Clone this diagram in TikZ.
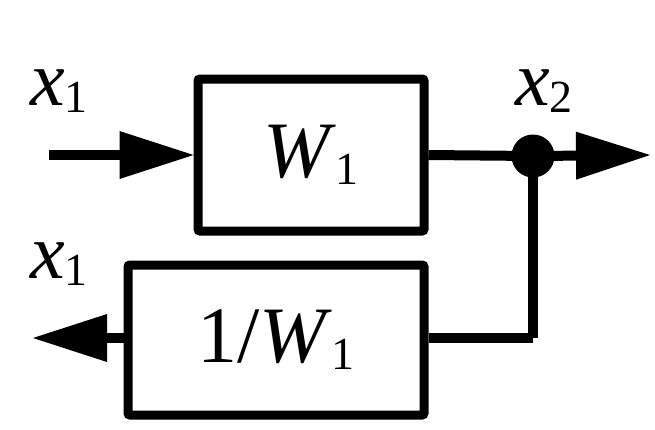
\documentclass[tikz,border=0pt]{standalone}
\usepackage{fontspec}
\setmainfont{Liberation Serif}
\usetikzlibrary{arrows.meta}
\newcommand\subidx[1]{\raisebox{-7pt}{\fontsize{46}{48}\selectfont #1}}
\tikzstyle{block}=[draw,line width=9pt,fill=white,rounded corners=2pt,inner sep=0pt,font=\fontsize{80}{88}\selectfont]
\tikzstyle{wire}=[draw,line width=10pt]
\tikzstyle{sig}=[wire,-{Triangle[length=74pt,width=48pt,line width=0pt]}]
\tikzstyle{signame}=[inner sep=0pt,anchor=base west,font=\fontsize{78}{88}\selectfont]

\begin{document}
\begin{tikzpicture}[x=1pt,y=-1pt]
				\useasboundingbox (0,0) rectangle (655,429);
				% the two blocks and the branch point
				\node[block,minimum width=226pt,minimum height=152pt] (fwd) at (311,155) {\textit{W}\subidx{1}};
				\node[block,minimum width=296pt,minimum height=150pt] (inv) at (276,340) {1/\textit{W}\subidx{1}};
				\node[circle,fill=black,minimum size=43pt,inner sep=0pt] (dot) at (533,156) {};
				\coordinate (in) at (49,155);
				\coordinate (out) at (650,155);
				\coordinate (turn) at (533,338);
				\coordinate (back) at (33,338);

				% signal labels
				\node[signame] (xin) at (30,105) {\textit{x}\subidx{1}};
				\node[signame] (xmid) at (515,105) {\textit{x}\subidx{2}};
				\node[signame] (xback) at (30,278) {\textit{x}\subidx{1}};

				% connections
				\path[sig] (in) -- (fwd.west);
				\path[wire] (fwd.east) -- (dot.center);
				\path[sig] (dot.center) -- (out);
				\path[wire] (dot.center) -- (turn);
				\path[wire] (turn) -- (turn -| inv.east);
				\path[sig] (inv.west |- turn) -- (back);
\end{tikzpicture}
\end{document}
